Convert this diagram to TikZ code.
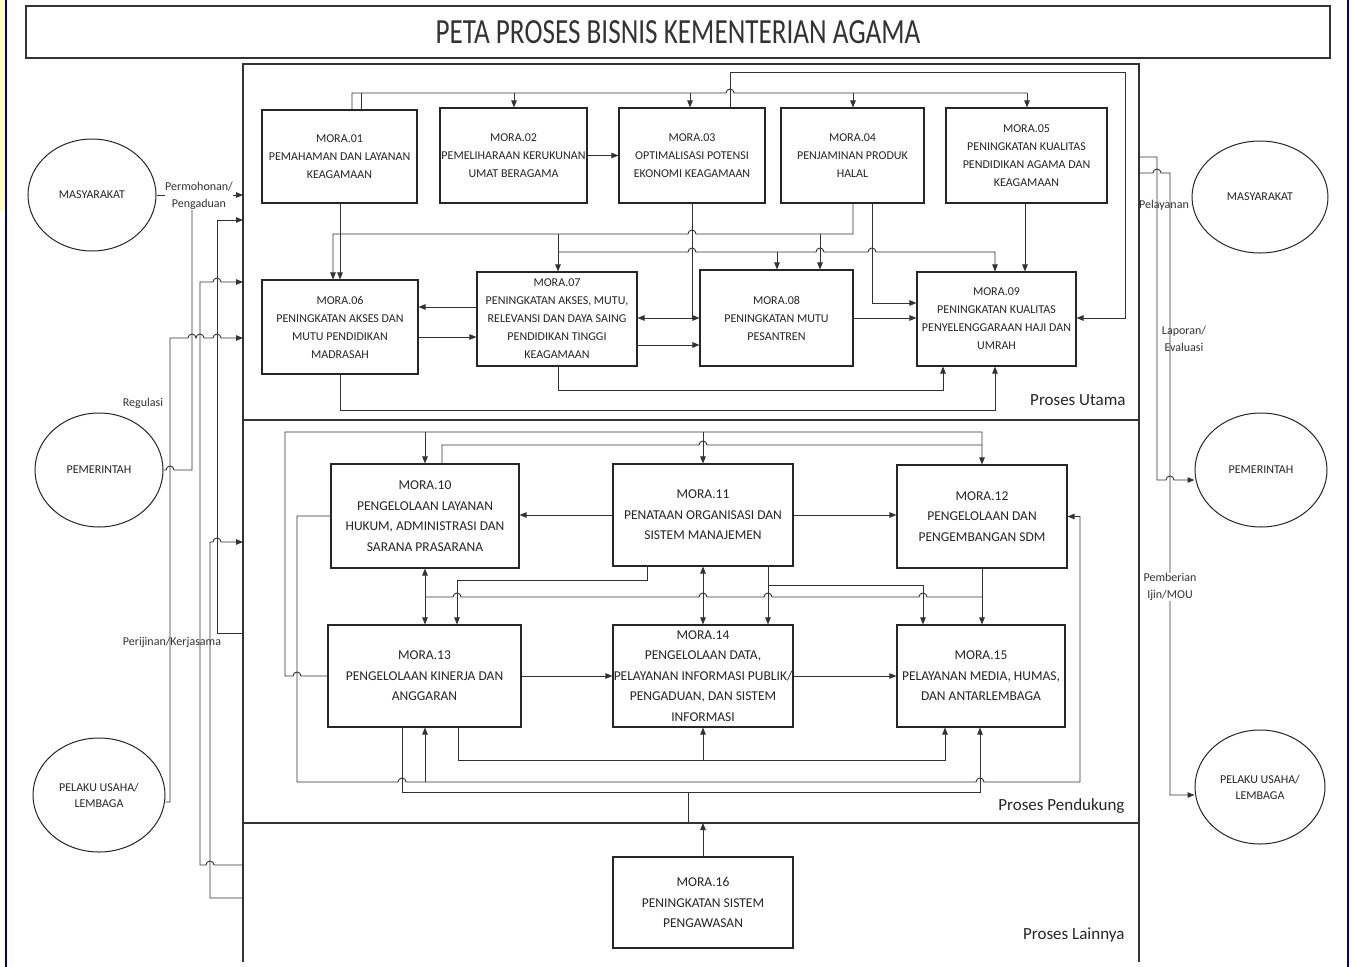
\documentclass[tikz,border=0pt]{standalone}
\usepackage{fontspec}
\setmainfont{Carlito}
\usepackage{graphicx}
\usetikzlibrary{arrows.meta,shapes.geometric}
\tikzset{
 ln/.style={draw=black!80, line width=0.9pt},
 arr/.style={ln, -{Triangle[length=7pt,width=5.5pt]}},
 arrb/.style={ln, {Triangle[length=7pt,width=5.5pt]}-{Triangle[length=7pt,width=5.5pt]}},
 frame/.style={draw=black!80, line width=1.3pt},
 mbox/.style={draw=black!85, line width=1.1pt, align=center, inner sep=0.5pt, fill=white, text=black!85},
 topbox/.style={mbox, font=\fontsize{12}{18}\selectfont},
 lowbox/.style={mbox, font=\fontsize{13.5}{20.5}\selectfont},
 actor/.style={ellipse, draw=black!85, line width=1pt, inner sep=0pt, align=center, text=black!85, font=\fontsize{12}{16}\selectfont},
 lbl/.style={align=center, text=black!80, font=\fontsize{12}{17}\selectfont, inner sep=0.5pt},
 sect/.style={anchor=east, text=black!85, font=\fontsize{17}{20}\selectfont},
 hopR/.style 2 args={insert path={-- ({#1-4},#2) arc[start angle=180,end angle=0,radius=4pt]}},
 hopL/.style 2 args={insert path={-- ({#1+4},#2) arc[start angle=0,end angle=180,radius=4pt]}},
}
\begin{document}
\begin{tikzpicture}[x=1pt,y=-1pt]
\useasboundingbox (0,0) rectangle (1353,967);
\fill[white] (0,0) rectangle (1353,967);
% slide edges
\fill[yellow!25] (0,0) rectangle (6,210);
\draw[blue!55!black, line width=2pt] (6,0) -- (6,967);
\draw[blue!55!black, line width=2pt] (1348,0) -- (1348,967);
% title
\draw[frame] (26,6) rectangle (1330,58);
\node[text=black!80, font=\fontsize{27.2}{30}\selectfont] (title) at (678,32) {\scalebox{1}[1.3]{PETA PROSES BISNIS KEMENTERIAN AGAMA}};
% frames
\draw[frame] (243,64) rectangle (1139,420);
\draw[frame] (243,420) rectangle (1139,823);
\draw[frame] (243,823) -- (243,962) (1139,823) -- (1139,962);
\coordinate (fL) at (243,0);
\coordinate (fR) at (1139,0);
\node[sect] (sU) at (1129,400) {Proses Utama};
\node[sect] (sP) at (1128,806) {Proses Pendukung};
\node[sect] (sL) at (1128,935) {Proses Lainnya};

% ---- Proses Utama boxes
\node[topbox, minimum width=155pt, minimum height=93pt] (m01) at (339.5,156.5) {MORA.01\\PEMAHAMAN DAN LAYANAN\\KEAGAMAAN};
\node[topbox, minimum width=147pt, minimum height=95pt] (m02) at (513.5,155.5) {MORA.02\\PEMELIHARAAN KERUKUNAN\\UMAT BERAGAMA};
\node[topbox, minimum width=146pt, minimum height=95pt] (m03) at (692,155.5) {MORA.03\\OPTIMALISASI POTENSI\\EKONOMI KEAGAMAAN};
\node[topbox, minimum width=143pt, minimum height=95pt] (m04) at (852.5,155.5) {MORA.04\\PENJAMINAN PRODUK\\HALAL};
\node[topbox, minimum width=161pt, minimum height=95pt] (m05) at (1026.5,155.5) {MORA.05\\PENINGKATAN KUALITAS\\PENDIDIKAN AGAMA DAN\\KEAGAMAAN};
\node[topbox, minimum width=156pt, minimum height=94pt] (m06) at (340,327) {MORA.06\\PENINGKATAN AKSES DAN\\MUTU PENDIDIKAN\\MADRASAH};
\node[topbox, minimum width=160pt, minimum height=94pt] (m07) at (557,319) {MORA.07\\PENINGKATAN AKSES, MUTU,\\RELEVANSI DAN DAYA SAING\\PENDIDIKAN TINGGI\\KEAGAMAAN};
\node[topbox, minimum width=153pt, minimum height=96pt] (m08) at (776.5,318) {MORA.08\\PENINGKATAN MUTU\\PESANTREN};
\node[topbox, minimum width=159pt, minimum height=94pt] (m09) at (996.5,319) {MORA.09\\PENINGKATAN KUALITAS\\PENYELENGGARAAN HAJI DAN\\UMRAH};

% ---- Proses Pendukung / Lainnya boxes
\node[lowbox, minimum width=188pt, minimum height=104pt] (m10) at (425,516) {MORA.10\\PENGELOLAAN LAYANAN\\HUKUM, ADMINISTRASI DAN\\SARANA PRASARANA};
\node[lowbox, minimum width=180pt, minimum height=102pt] (m11) at (703,515) {MORA.11\\PENATAAN ORGANISASI DAN\\SISTEM MANAJEMEN};
\node[lowbox, minimum width=170pt, minimum height=103pt] (m12) at (982,516.5) {MORA.12\\PENGELOLAAN DAN\\PENGEMBANGAN SDM};
\node[lowbox, minimum width=193pt, minimum height=102pt] (m13) at (424.5,676) {MORA.13\\PENGELOLAAN KINERJA DAN\\ANGGARAN};
\node[lowbox, minimum width=180pt, minimum height=102pt] (m14) at (703,676) {MORA.14\\PENGELOLAAN DATA,\\PELAYANAN INFORMASI PUBLIK/\\PENGADUAN, DAN SISTEM\\INFORMASI};
\node[lowbox, minimum width=168pt, minimum height=102pt] (m15) at (981,676) {MORA.15\\PELAYANAN MEDIA, HUMAS,\\DAN ANTARLEMBAGA};
\node[lowbox, minimum width=180pt, minimum height=91pt] (m16) at (703,902.5) {MORA.16\\PENINGKATAN SISTEM\\PENGAWASAN};

% ---- actors
\node[actor, minimum width=128pt, minimum height=112pt] (mL) at (92,195) {MASYARAKAT};
\node[actor, minimum width=128pt, minimum height=114pt] (pL) at (99,470) {PEMERINTAH};
\node[actor, minimum width=132pt, minimum height=114pt] (uL) at (99,795) {PELAKU USAHA/\\LEMBAGA};
\node[actor, minimum width=136pt, minimum height=112pt] (mR) at (1260,197) {MASYARAKAT};
\node[actor, minimum width=132pt, minimum height=114pt] (pR) at (1261,470) {PEMERINTAH};
\node[actor, minimum width=130pt, minimum height=114pt] (uR) at (1260,787) {PELAKU USAHA/\\LEMBAGA};

% ---- Proses Utama connectors
\draw[ln] (352,0 |- m01.north) -- (352,93) [hopR={730}{93}] -- (1027,93);
\draw[ln] (361,0 |- m01.north) -- (361,93);
\draw[arr] (514,93) -- (514,0 |- m02.north);
\draw[arr] (690,93) -- (690,0 |- m03.north);
\draw[arr] (853,93) -- (853,0 |- m04.north);
\draw[arr] (1027,93) -- (1027,0 |- m05.north);
\draw[arr] (730,0 |- m03.north) -- (730,72) -- (1125,72) -- (1125,318) -- (m09.east |- 0,318);
\draw[arr] (m02.east) -- (m03.west |- m02.east);
\draw[arr] (340,0 |- m01.south) -- (340,0 |- m06.north);
\draw[arr] (853,0 |- m04.south) -- (853,234) [hopL={692}{234}] -- (333,234) -- (333,0 |- m06.north);
\draw[arr] (820,234) -- (820,0 |- m08.north);
\draw[arr] (558,234) -- (558,0 |- m07.north);
\draw[arr] (558,252) [hopR={692}{252}] [hopR={820}{252}] [hopR={872}{252}] -- (995,252) -- (995,0 |- m09.north);
\draw[arr] (777,252) -- (777,0 |- m08.north);
\draw[ln] (692,0 |- m03.south) -- (692,318);
\draw[arrb] (m07.east |- 0,318) -- (m08.west |- 0,318);
\draw[arr] (872,0 |- m04.south) -- (872,303) -- (m09.west |- 0,303);
\draw[arr] (1025,0 |- m05.south) -- (1025,0 |- m09.north);
\draw[arr] (m07.west |- 0,307) -- (m06.east |- 0,307);
\draw[arr] (m06.east |- 0,337) -- (m07.west |- 0,337);
\draw[arr] (m07.east |- 0,345) -- (m08.west |- 0,345);
\draw[arr] (m08.east) -- (m09.west |- m08.east);
\draw[arr] (558,0 |- m07.south) -- (558,390) -| (943,0 |- m09.south);
\draw[arr] (340,0 |- m06.south) -- (340,410) -| (995,0 |- m09.south);

% ---- Proses Pendukung connectors
\draw[arr] (m13.west) [hopL={297}{676}] -- (285,676) |- (982,432) -- (982,0 |- m12.north);
\draw[arr] (425,432) -- (425,0 |- m10.north);
\draw[arr] (703,432) -- (703,0 |- m11.north);
\draw[ln] (442,0 |- m10.north) -- (442,445) [hopR={703}{445}] -- (982,445);
\draw[arr] (m10.west) -- (297,516) -- (297,782) [hopR={402}{782}] [hopR={980}{782}] -- (1080,782) |- (m12.east);
\draw[arr] (425,782) -- (425,0 |- m13.south);
\draw[arr] (402,0 |- m13.south) -- (402,792) -| (980,0 |- m15.south);
\draw[arr] (458,0 |- m13.south) -- (458,760) -| (945,0 |- m15.south);
\draw[arr] (703,760) -- (703,0 |- m14.south);
\draw[arr] (m16.north) -- (703,823);
\draw[ln] (688,823) -- (688,792);
\draw[arr] (m11.west) -- (m10.east |- m11.west);
\draw[arr] (m11.east) -- (m12.west |- m11.east);
\draw[arr] (m13.east) -- (m14.west |- m13.east);
\draw[arr] (m14.east) -- (m15.west |- m14.east);
\draw[arr] (982,0 |- m12.south) -- (982,0 |- m15.north);
\draw[ln] (982,597) [hopL={923}{597}] [hopL={768}{597}] [hopL={703}{597}] [hopL={457}{597}] -- (425,597);
\draw[arr] (425,597) -- (425,0 |- m10.south);
\draw[arr] (425,597) -- (425,0 |- m13.north);
\draw[arr] (647,0 |- m11.south) |- (457,580) -- (457,0 |- m13.north);
\draw[arr] (768,0 |- m11.south) -- (768,0 |- m14.north);
\draw[arr] (768,585) -| (923,0 |- m15.north);
\draw[arrb] (703,0 |- m11.south) -- (703,0 |- m14.north);

% ---- left side
\draw[arr] (mL.east) -- (fL |- mL.east);
\draw[ln] (pL.east) [hopR={170}{470}] -- (192,470) -- (192,195);
\draw[arr] (uL.east |- 0,802) -- (170,802) -- (170,338) [hopR={192}{338}] [hopR={200}{338}] [hopR={217}{338}] -- (fL |- 0,338);
\draw[arr] (fL |- 0,633) -- (217,633) -- (217,220) -- (fL |- 0,220);
\draw[arr] (fL |- 0,865) [hopL={210}{865}] -- (200,865) -- (200,282) [hopR={217}{282}] -- (fL |- 0,282);
\draw[arr] (fL |- 0,898) -- (210,898) -- (210,542) [hopR={217}{542}] -- (fL |- 0,542);
\node[lbl, fill=white] (lPerm) at (199,196) {Permohonan/\\Pengaduan};
\node[lbl] (lReg) at (143,403) {Regulasi};
\node[lbl] (lPer) at (172,642) {Perijinan/Kerjasama};

% ---- right side
\draw[arr] (fR |- 0,157) -- (1157,157) -- (1157,480) [hopR={1170}{480}] -- (pR.west |- 0,480);
\draw[arr] (fR |- 0,173) [hopR={1157}{173}] -- (1170,173) -- (1170,795) -- (uR.west |- 0,795);
\node[lbl] (lPel) at (1164,205) {Pelayanan};
\node[lbl] (lLap) at (1184,339) {Laporan/\\Evaluasi};
\node[lbl, fill=white] (lPem) at (1170,587) {Pemberian\\Ijin/MOU};
\end{tikzpicture}
\end{document}
